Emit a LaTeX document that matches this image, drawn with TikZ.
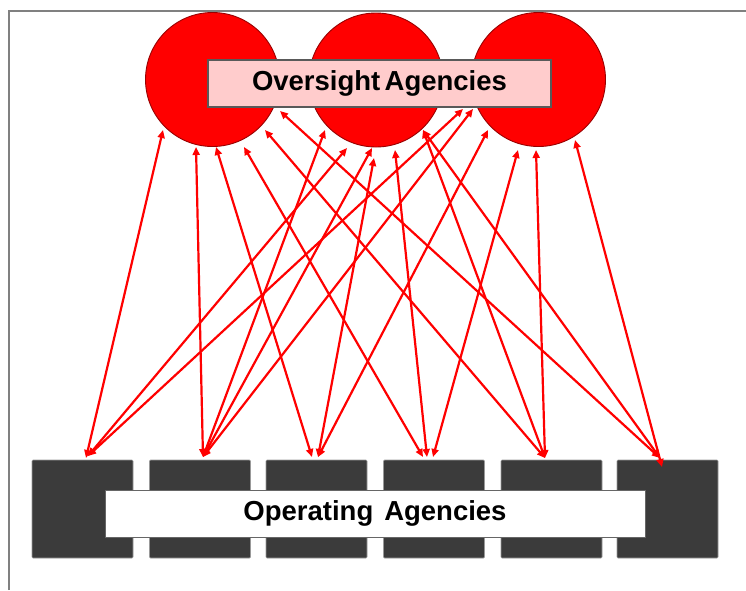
\documentclass[tikz,border=0pt]{standalone}
\usepackage{fontspec}
\setmainfont{Liberation Sans}
\usetikzlibrary{arrows.meta}
\begin{document}
\begin{tikzpicture}[x=1pt,y=-1pt,
  circ/.style={circle,fill=red,draw=red!60!black,line width=0.9pt,minimum size=134pt,inner sep=0pt},
  ovbox/.style={rectangle,fill=red!20,draw=gray!70!black,line width=1.2pt,minimum width=343pt,minimum height=47pt,inner sep=0pt,font=\bfseries\fontsize{27.5}{30}\selectfont},
  opbox/.style={rectangle,rounded corners=1pt,fill=black!77,draw=black!40,line width=0.6pt,minimum width=101pt,minimum height=98pt,inner sep=0pt},
  opname/.style={rectangle,fill=white,draw=gray!80!black,line width=1pt,minimum width=540pt,minimum height=47pt,inner sep=0pt,font=\bfseries\fontsize{27.5}{30}\selectfont},
  arr/.style={red,line width=2.2pt,{Triangle[length=8pt,width=7pt]}-{Triangle[length=8pt,width=7pt]}}]
\useasboundingbox (0,0) rectangle (746,590);
\draw[gray,line width=1.2pt] (9,590) -- (9,11) -- (746,11);
% oversight circles
\node[circ] (c1) at (212.5,79.5) {};
\node[circ] (c2) at (376,80) {};
\node[circ] (c3) at (538.5,79.5) {};
\node[ovbox] (ov) at (379.5,83.5) {Oversight\hspace{-0.12em} Agencies};
% operating boxes
\node[opbox] (o1) at (82.5,509) {};
\node[opbox] (o2) at (200,509) {};
\node[opbox] (o3) at (316.5,509) {};
\node[opbox] (o4) at (434,509) {};
\node[opbox] (o5) at (551.5,509) {};
\node[opbox] (o6) at (667.5,509) {};
\node[opname] (op) at (375,513.5) {Operating\hspace{0.12em} Agencies};
% connector ends at the circles
\coordinate (t11) at (163,130);
\coordinate (t12) at (196,147);
\coordinate (t13) at (216,147);
\coordinate (t14) at (244,147);
\coordinate (t15) at (265,130);
\coordinate (t16) at (280,111);
\coordinate (t21) at (325,130);
\coordinate (t22) at (347,148);
\coordinate (t23) at (372,148);
\coordinate (t24) at (374,158);
\coordinate (t25) at (395,150);
\coordinate (t26) at (423,130);
\coordinate (t31) at (463,109);
\coordinate (t32) at (473,109);
\coordinate (t33) at (488,130);
\coordinate (t34) at (518,150);
\coordinate (t35) at (536,150);
\coordinate (t36) at (575,140);
% connector ends at the boxes
\coordinate (b1a) at (86,458);
\coordinate (b1b) at (88,456);
\coordinate (b2) at (203,457);
\coordinate (b3a) at (312,457);
\coordinate (b3b) at (318,457);
\coordinate (b4a) at (423,457);
\coordinate (b4b) at (427,457);
\coordinate (b4c) at (433,457);
\coordinate (b5) at (545,458);
\coordinate (b6a) at (660,458);
\coordinate (b6b) at (662,467);
% connectors
\draw[arr] (t11) -- (b1a);
\draw[arr] (t12) -- (b2);
\draw[arr] (t13) -- (b3a);
\draw[arr] (t14) -- (b4a);
\draw[arr] (t15) -- (b5);
\draw[arr] (t16) -- (b6a);
\draw[arr] (t21) -- (b2);
\draw[arr] (t22) -- (b1b);
\draw[arr] (t23) -- (b2);
\draw[arr] (t24) -- (b3b);
\draw[arr] (t25) -- (b4b);
\draw[arr] (t26) -- (b5);
\draw[arr] (t26) -- (b6a);
\draw[arr] (t31) -- (b1b);
\draw[arr] (t32) -- (b2);
\draw[arr] (t33) -- (b3b);
\draw[arr] (t34) -- (b4c);
\draw[arr] (t35) -- (b5);
\draw[arr] (t36) -- (b6b);
\end{tikzpicture}
\end{document}
